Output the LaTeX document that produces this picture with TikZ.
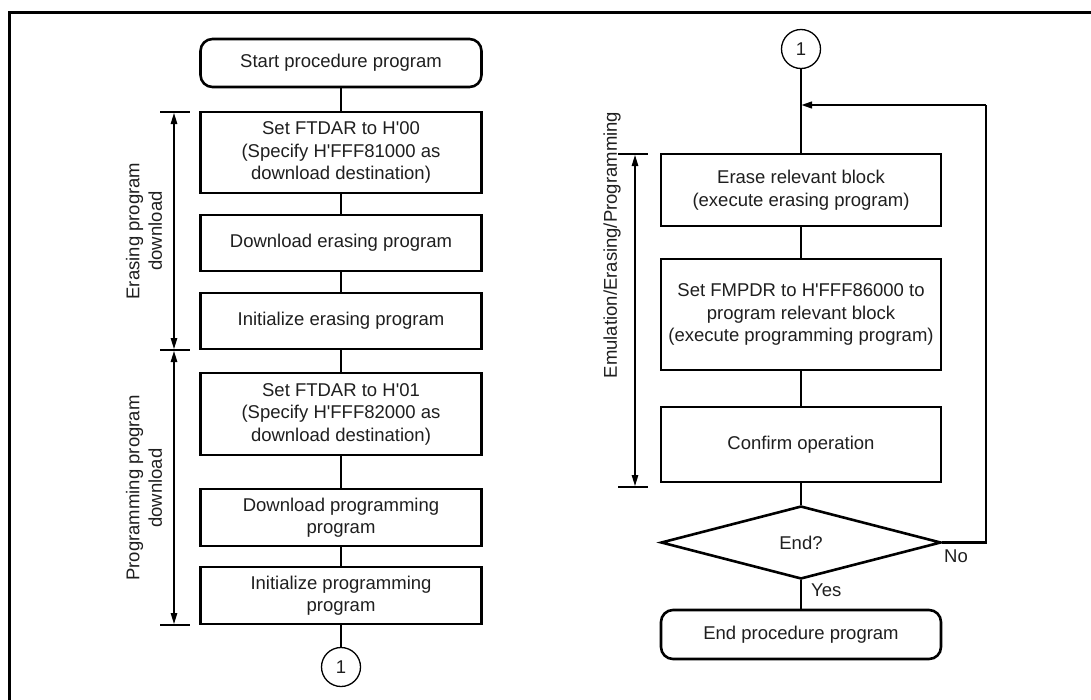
\documentclass[tikz,border=0pt]{standalone}
\usepackage{fontspec}
\setmainfont{Liberation Sans}[Ligatures=TeXOff]
\usetikzlibrary{shapes.geometric,arrows.meta,calc}
\begin{document}
\begin{tikzpicture}[x=1pt,y=-1pt,
  font=\fontsize{18.5}{22.5}\selectfont,
  every node/.style={text=black!88},
  procbox/.style={draw, line width=2.6pt, minimum width=281pt, inner sep=0pt, align=center},
  termbox/.style={procbox, rounded corners=12pt},
  decbox/.style={draw, line width=2.6pt, shape=diamond, minimum width=280pt, minimum height=73pt, inner sep=0pt},
  conn/.style={draw, line width=1.3pt},
  conncirc/.style={draw, line width=1.3pt, circle, minimum size=39pt, inner sep=0pt},
  flowarrow/.style={draw, line width=2.4pt, -{Triangle[length=11pt,width=6.5pt]}},
  dimarrow/.style={draw, line width=1.3pt, {Triangle[length=11pt,width=6.5pt]}-{Triangle[length=11pt,width=6.5pt]}},
  tick/.style={draw, line width=1.3pt},
  lbl/.style={inner sep=0pt}
]
\useasboundingbox (0,0) rectangle (1091,699);
\fill[white] (0,0) rectangle (1091,699);
% frame
\draw[line width=3pt] (9,700) -- (9,12) -- (1092,12);

% left column
\node[termbox, minimum height=48pt] (start) at (341,63) {Start procedure program};
\node[procbox, minimum height=81pt] (b1) at (341,152.5) {Set FTDAR to H'00\\(Specify H'FFF81000 as\\download destination)};
\node[procbox, minimum height=56pt] (b2) at (341,243) {Download erasing program};
\node[procbox, minimum height=56pt] (b3) at (341,321) {Initialize erasing program};
\node[procbox, minimum height=82pt] (b4) at (341,414) {Set FTDAR to H'01\\(Specify H'FFF82000 as\\download destination)};
\node[procbox, minimum height=57pt] (b5) at (341,517.5) {Download programming\\program};
\node[procbox, minimum height=57pt] (b6) at (341,595.5) {Initialize programming\\program};
\node[conncirc] (c1) at (341,667) {1};

\draw[conn] (start) -- (b1);
\draw[conn] (b1) -- (b2);
\draw[conn] (b2) -- (b3);
\draw[conn] (b3) -- (b4);
\draw[conn] (b4) -- (b5);
\draw[conn] (b5) -- (b6);
\draw[conn] (b6) -- (c1);

% left dimension arrows
\coordinate (ea) at (174,112);
\coordinate (eb) at (174,350);
\coordinate (pb) at (174,625);
\draw[tick] ($(ea)+(-14,0)$) -- ($(ea)+(16,0)$);
\draw[tick] ($(eb)+(-14,0)$) -- ($(eb)+(16,0)$);
\draw[tick] ($(pb)+(-14,0)$) -- ($(pb)+(16,0)$);
\draw[dimarrow] ($(ea)+(0,1)$) -- ($(eb)+(0,-1)$);
\draw[dimarrow] ($(eb)+(0,1)$) -- ($(pb)+(0,-1)$);
\node[lbl, rotate=90, align=center] (elbl) at (144,231) {Erasing program\\download};
\node[lbl, rotate=90, align=center] (plbl) at (144,488) {Programming program\\download};

% right column
\node[conncirc] (c2) at (801,49) {1};
\node[procbox, minimum width=280pt, minimum height=72pt] (e1) at (801,190) {Erase relevant block\\(execute erasing program)};
\node[procbox, minimum width=280pt, minimum height=111pt] (e2) at (801,314.5) {Set FMPDR to H'FFF86000 to\\program relevant block\\(execute programming program)};
\node[procbox, minimum width=280pt, minimum height=75pt] (e3) at (801,444.5) {Confirm operation};
\node[decbox] (d) at (801,542.5) {End?};
\node[termbox, minimum width=280pt, minimum height=49pt] (end) at (801,634.5) {End procedure program};

\coordinate (fb) at (801,105);
\coordinate (fbc) at (986,105);
\draw[conn] (c2) -- (e1);
\draw[conn] (e1) -- (e2);
\draw[conn] (e2) -- (e3);
\draw[conn] (e3) -- (d);
\draw[conn] (d) -- (end);
\draw[line width=2.4pt] (d.east) -| (fbc);
\draw[flowarrow] (fbc) -- (fb);

\node[lbl, anchor=west] (yes) at (811,590) {Yes};
\node[lbl, anchor=west] (no) at (944,556) {No};

% right dimension arrow
\coordinate (ra) at (635,154);
\coordinate (rb) at (635,487);
\draw[tick] ($(ra)+(-17,0)$) -- ($(ra)+(13,0)$);
\draw[tick] ($(rb)+(-17,0)$) -- ($(rb)+(13,0)$);
\draw[dimarrow] ($(ra)+(0,1)$) -- ($(rb)+(0,-1)$);
\node[lbl, rotate=90] (rlbl) at (612,245) {Emulation/Erasing/Programming};
\end{tikzpicture}
\end{document}
